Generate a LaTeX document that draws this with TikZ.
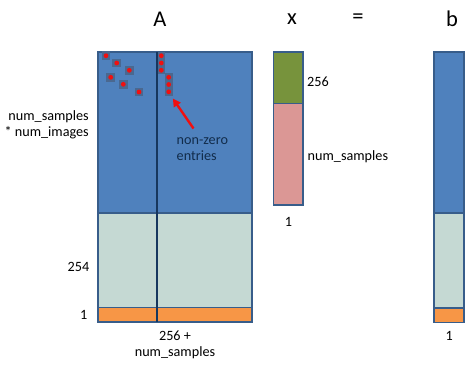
\documentclass[tikz,border=0pt]{standalone}
\usepackage{fontspec}
\setmainfont{Carlito}
\usetikzlibrary{arrows.meta}
\definecolor{ablue}{HTML}{4F81BD}
\definecolor{aedge}{HTML}{385D8A}
\definecolor{agreen}{HTML}{C5D9D3}
\definecolor{aorange}{HTML}{F79646}
\definecolor{aolive}{HTML}{77933C}
\definecolor{apink}{HTML}{DB9795}
\definecolor{anavy}{HTML}{17375E}
\definecolor{asq}{HTML}{4A6890}
\definecolor{ared}{HTML}{F01010}
\begin{document}
\begin{tikzpicture}[x=1pt,y=-1pt,
  block/.style={draw=aedge,line width=1.8pt},
  title/.style={font=\fontsize{22.5}{24}\selectfont,inner sep=0pt},
  lbl/.style={font=\fontsize{14.2}{15.5}\selectfont,inner sep=0pt,text=black},
  sq/.style={fill=asq,draw=none,minimum size=8.5pt,inner sep=0pt},
  dot/.style={circle,fill=ared,minimum size=4.8pt,inner sep=0pt},
  colbox/.style={fill=asq,draw=none,inner sep=0pt}]
\useasboundingbox (0,0) rectangle (474,367);
\fill[white] (0,0) rectangle (474,367);
% titles
\node[title] (tA) at (160,19) {A};
\node[title] (tx) at (292,19) {x};
\node[title] (teq) at (358,19) {=};
\node[title] (tb) at (452,19) {b};
% matrix A
\draw[block,fill=ablue] (98,52) rectangle (252,213);
\draw[block,fill=agreen] (98,213) rectangle (252,307.5);
\draw[block,fill=aorange] (98,307.5) rectangle (252,322);
\draw[anavy,line width=1.8pt] (157,52) -- (157,322);
% scattered entries
\foreach \px/\py [count=\i] in {106/55.7,116.7/63,129.3/70.3,110.7/77.3,123.3/84.3,139/92}{
  \node[sq] (s\i) at (\px,\py) {};
  \node[dot] (d\i) at (\px,\py) {};
}
\fill[asq] (157.8,51.8) rectangle (165,74);
\fill[asq] (165,72.5) rectangle (172.5,96);
\foreach \py [count=\i] in {55.7,63,70.3}{ \node[dot] (c\i) at (161.3,\py) {}; }
\foreach \py [count=\i] in {77.3,84.5,91.8}{ \node[dot] (e\i) at (168.7,\py) {}; }
\coordinate (tip) at (172.8,98.5);
\coordinate (tail) at (193.5,128.5);
\draw[ared,line width=2.4pt,-{Triangle[length=8pt,width=8pt]}] (tail) -- (tip);
\node[lbl,anchor=west,align=left,text=anavy!80!black] (nz) at (176.5,149) {non-zero\\entries};
% labels of A
\node[lbl,anchor=east,align=right] (rowsA) at (89,125) {num\_samples\\* num\_images};
\node[lbl,anchor=east] (r254) at (89.5,267) {254};
\node[lbl,anchor=east] (r1) at (87.5,314.5) {1};
\node[lbl,align=center] (colsA) at (175,345) {256 +\\num\_samples};
% vector x
\draw[block,fill=aolive] (273.5,52.3) rectangle (303.3,103.5);
\draw[block,fill=apink] (273.5,103.5) rectangle (303.3,205);
\node[lbl,anchor=west] (x256) at (307,82) {256};
\node[lbl,anchor=west] (xns) at (307.5,157) {num\_samples};
\node[lbl] (x1) at (288.5,222) {1};
% vector b
\draw[block,fill=ablue] (434.3,52.3) rectangle (464.3,213.3);
\draw[block,fill=agreen] (434.3,213.3) rectangle (464.3,307.7);
\draw[block,fill=aorange] (434.3,307.7) rectangle (464.3,322.5);
\node[lbl] (b1) at (449.3,335.5) {1};
\end{tikzpicture}
\end{document}
